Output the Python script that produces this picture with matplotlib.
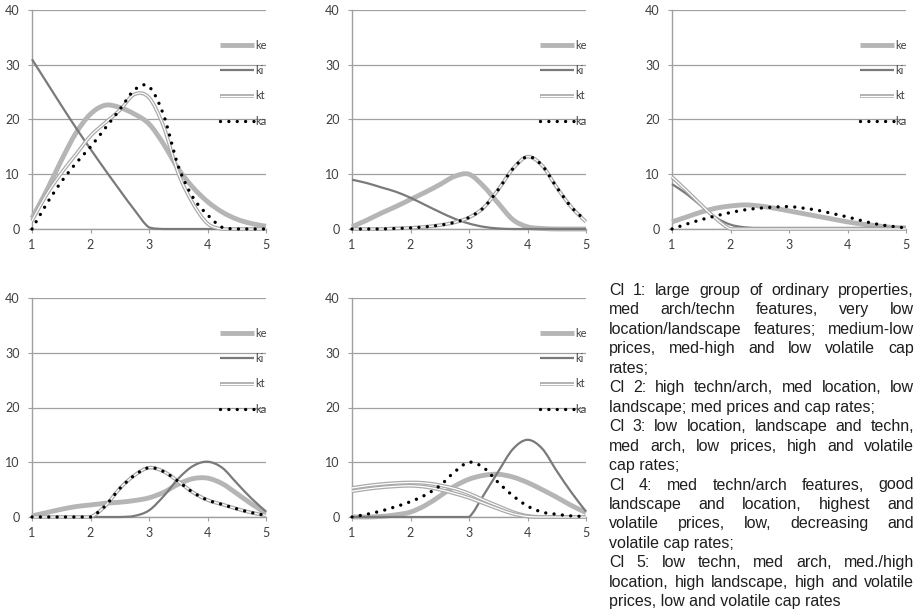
import matplotlib
matplotlib.use('Agg')
import matplotlib.pyplot as plt
import numpy as np
from matplotlib.path import Path
from matplotlib.patches import PathPatch
from matplotlib.lines import Line2D

# x positions of the read points (same for every cluster)
x_pos = [1, 1.25, 1.5, 1.75, 2, 2.25, 2.5, 2.75, 3, 3.25, 3.5, 3.75, 4, 4.25, 4.5, 4.75, 5]

# cluster 1
ke_c1 = [2, 7, 12.5, 17.5, 21, 22.6, 22.2, 21, 19.2, 15.5, 11, 7.6, 5, 3.1, 1.8, 1, 0.5]
ki_c1 = [31, 26.8, 22.6, 18.5, 14.6, 10.8, 7.1, 3.5, 0.3, 0, 0, 0, 0, 0, 0, 0, 0]
kt_c1 = [1.5, 6.3, 10.2, 13.6, 17, 19.4, 21.7, 24.6, 24, 18.7, 10.2, 4.7, 1, 0, 0, 0, 0]
ka_c1 = [0, 4.6, 8.6, 12, 15, 18.4, 21.8, 25.4, 26, 20.8, 11.5, 5.8, 2.6, 0.3, 0, 0, 0]

# cluster 2
ke_c2 = [0.4, 1.6, 2.9, 4.1, 5.4, 6.7, 8.1, 9.6, 10, 7.8, 4.7, 1.7, 0.4, 0.1, 0, 0, 0]
ki_c2 = [9, 8.4, 7.6, 6.8, 5.7, 4.4, 3.1, 1.9, 1, 0.4, 0.1, 0, 0, 0, 0, 0, 0]
kt_c2 = [0, 0, 0, 0.1, 0.2, 0.4, 0.7, 1.2, 2.1, 3.9, 7.2, 11, 13.2, 11.6, 7.6, 4, 1.3]
ka_c2 = [0, 0, 0, 0.1, 0.2, 0.4, 0.7, 1.2, 2.1, 3.9, 7.2, 11, 13.2, 11.6, 7.6, 4, 1.5]

# cluster 3
ke_c3 = [1.3, 2.2, 3.1, 3.8, 4.2, 4.4, 4.2, 3.8, 3.3, 2.8, 2.3, 1.8, 1.3, 0.9, 0.6, 0.3, 0.2]
ki_c3 = [8.2, 6.4, 4.2, 2.1, 0.8, 0.3, 0.2, 0.2, 0.2, 0.2, 0.2, 0.2, 0.2, 0.2, 0.2, 0.2, 0.2]
kt_c3 = [9.5, 7, 4.4, 1.9, 0, 0, 0, 0, 0, 0, 0, 0, 0, 0, 0, 0, 0]
ka_c3 = [0, 0.9, 1.7, 2.4, 3, 3.5, 3.8, 4, 4.1, 3.8, 3.4, 2.8, 2.2, 1.5, 0.9, 0.5, 0.2]

# cluster 4
ke_c4 = [0.2, 0.8, 1.4, 1.9, 2.2, 2.5, 2.7, 3, 3.5, 4.5, 6, 7, 7.1, 6.1, 4.3, 2.4, 0.7]
ki_c4 = [0, 0, 0, 0, 0, 0, 0, 0.2, 1.2, 3.8, 7, 9.3, 10.1, 9, 6.2, 3.4, 1]
kt_c4 = [0, 0, 0, 0, 0, 2, 5.2, 7.6, 9, 8.3, 6.5, 4.5, 3.1, 2.3, 1.5, 0.8, 0.3]
ka_c4 = [0, 0, 0, 0, 0, 2, 5.2, 7.6, 9, 8.3, 6.5, 4.5, 3.1, 2.3, 1.5, 0.8, 0.3]

# cluster 5 (two double lines on the left)
ke_c5 = [0, 0, 0.1, 0.4, 0.9, 2.1, 3.8, 5.6, 6.9, 7.6, 7.8, 7.3, 6.3, 5, 3.6, 2.1, 0.8]
ki_c5 = [0, 0, 0, 0, 0, 0, 0, 0, 0, 4, 8.3, 12.4, 14.1, 12.5, 8.4, 4.5, 1]
kt_c5 = [5.3, 5.7, 6, 6.2, 6.3, 6.2, 5.8, 5.2, 4.3, 3.1, 2, 0.9, 0.2, 0, 0, 0, 0]
kt2_c5 = [4.7, 5.1, 5.4, 5.6, 5.7, 5.5, 5, 4.3, 3.5, 2.5, 1.5, 0.6, 0.1, 0, 0, 0, 0]
ka_c5 = [0, 0.5, 1.1, 1.9, 2.8, 4, 5.7, 8.2, 10, 9, 6.3, 3.9, 2, 0.9, 0.5, 0.2, 0.1]

legend_labels = ['ke', 'ki', 'kt', 'ka']
x_ticks = [1, 2, 3, 4, 5]
y_ticks = [0, 10, 20, 30, 40]

desc_lines = [
    "Cl 1: large group of ordinary properties,",
    "med arch/techn features, very low",
    "location/landscape features; medium-low",
    "prices, med-high and low volatile cap",
    "rates;",
    "Cl 2: high techn/arch, med location, low",
    "landscape; med prices and cap rates;",
    "Cl 3: low location, landscape and techn,",
    "med arch, low prices, high and volatile",
    "cap rates;",
    "Cl 4: med techn/arch features, good",
    "landscape and location, highest and",
    "volatile prices, low, decreasing and",
    "volatile cap rates;",
    "Cl 5: low techn, med arch, med./high",
    "location, high landscape, high and volatile",
    "prices, low and volatile cap rates",
]
para_ends = [4, 6, 9, 13, 16]

styles = {
    'ke': [dict(color='#b5b5b5', lw=3.5)],
    'ki': [dict(color='#7a7a7a', lw=1.6)],
    'kt': [dict(color='#aaaaaa', lw=2.7), dict(color='white', lw=0.9)],
    'ka': [dict(color='black', lw=2.4, ls=(0, (0.01, 2.5)))],
}

W, H = 922, 612
fig = plt.figure(figsize=(W / 100, H / 100), dpi=100)
fig.patch.set_facecolor('white')


def smooth_path(xs, ys):
    # excel-like smoothed line: catmull-rom as cubic bezier
    pts = np.column_stack([xs, ys]).astype(float)
    n = len(pts)
    verts = [pts[0]]
    codes = [Path.MOVETO]
    for i in range(n - 1):
        p0 = pts[max(i - 1, 0)]
        p1 = pts[i]
        p2 = pts[i + 1]
        p3 = pts[min(i + 2, n - 1)]
        c1 = p1 + (p2 - p0) / 6
        c2 = p2 - (p3 - p1) / 6
        c1[1] = max(c1[1], 0)
        c2[1] = max(c2[1], 0)
        verts += [c1, c2, p2]
        codes += [Path.CURVE4] * 3
    return Path(verts, codes)


def draw_series(ax, ys, key, z):
    for k, st in enumerate(styles[key]):
        patch = PathPatch(smooth_path(x_pos, ys), fill=False, edgecolor=st['color'],
                          lw=st['lw'], linestyle=st.get('ls', '-'),
                          capstyle='round' if key == 'ka' else 'butt',
                          joinstyle='round', clip_on=False, zorder=z + k * 0.1)
        ax.add_patch(patch)


def legend_handle(key):
    parts = []
    for st in styles[key]:
        parts.append(Line2D([], [], color=st['color'], lw=st['lw'], ls=st.get('ls', '-'),
                            dash_capstyle='round', solid_capstyle='butt'))
    return tuple(parts)


# (left px, bottom px, series list)
panels = [
    (32, 229, [('ke', ke_c1), ('ki', ki_c1), ('kt', kt_c1), ('ka', ka_c1)]),
    (352, 229, [('ke', ke_c2), ('ki', ki_c2), ('kt', kt_c2), ('ka', ka_c2)]),
    (672, 229, [('ke', ke_c3), ('ki', ki_c3), ('kt', kt_c3), ('ka', ka_c3)]),
    (32, 517, [('ke', ke_c4), ('ki', ki_c4), ('kt', kt_c4), ('ka', ka_c4)]),
    (352, 517, [('ke', ke_c5), ('ki', ki_c5), ('kt', kt_c5), ('kt', kt2_c5), ('ka', ka_c5)]),
]

for left, bottom, series in panels:
    ax = fig.add_axes([left / W, 1 - bottom / H, 234 / W, 219 / H])
    ax.set_xlim(1, 5)
    ax.set_ylim(0, 40)
    ax.set_xticks(x_ticks)
    ax.set_yticks(y_ticks)
    ax.set_xticklabels([str(t) for t in x_ticks])
    ax.set_yticklabels([str(t) for t in y_ticks])
    for sp in ['top', 'right']:
        ax.spines[sp].set_visible(False)
    for sp in ['left', 'bottom']:
        ax.spines[sp].set_color('#a0a0a0')
        ax.spines[sp].set_linewidth(1.0)
    ax.grid(axis='y', color='#a0a0a0', lw=0.9)
    ax.set_axisbelow(True)
    ax.tick_params(axis='both', direction='out', length=3, color='#a0a0a0',
                   labelsize=9, labelcolor='#404040')
    ax.tick_params(axis='y', pad=6)
    ax.tick_params(axis='x', pad=4)
    for lab in ax.get_xticklabels() + ax.get_yticklabels():
        lab.set_family('Lato')

    for i, (key, ys) in enumerate(series):
        draw_series(ax, ys, key, 3 + i)

    handles = [legend_handle(k) for k in legend_labels]
    ax.legend(handles, legend_labels, loc='upper left', bbox_to_anchor=(0.805, 0.862),
              frameon=False, handlelength=3.0, handletextpad=0.1, labelspacing=1.27,
              borderpad=0, borderaxespad=0, prop={'family': 'Lato', 'size': 8},
              labelcolor='#404040')

# justified description text
renderer = fig.canvas.get_renderer()
kw = dict(fontsize=11.5, family='Liberation Sans', color='#1e1e1e', va='baseline', ha='left')
text_left, text_right = 609, 914
base0, step = 295, 19.45
for i, line in enumerate(desc_lines):
    yf = 1 - (base0 + i * step) / H
    if i in para_ends:
        fig.text(text_left / W, yf, line, **kw)
        continue
    words = line.split()
    texts = [fig.text(0, yf, w, **kw) for w in words]
    widths = [t.get_window_extent(renderer).width for t in texts]
    gap = (text_right - text_left - sum(widths)) / (len(words) - 1)
    xpx = text_left
    for t, w in zip(texts, widths):
        t.set_x(xpx / W)
        xpx += w + gap

fig.savefig('out.png', dpi=100)
